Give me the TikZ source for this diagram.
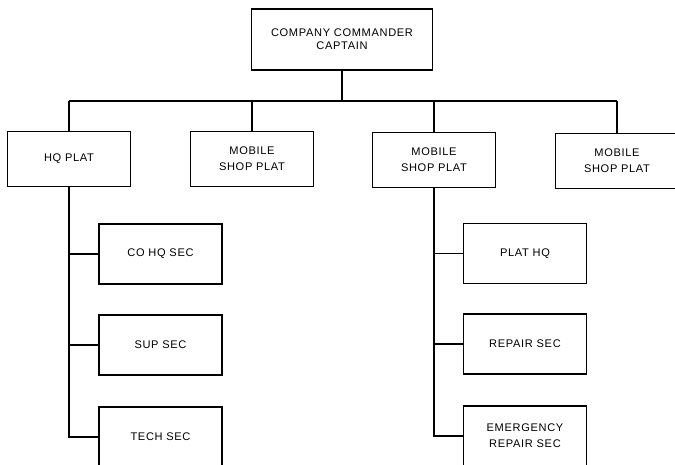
\documentclass[tikz,border=0pt]{standalone}
\usepackage{fontspec}
\setmainfont[LetterSpace=6]{Liberation Sans}
\usepackage{tikz}
\usetikzlibrary{positioning}

\begin{document}
\begin{tikzpicture}[
  x=0.02cm,y=-0.02cm,
  unit/.style={draw,line width=0.85pt,align=center,inner sep=0pt,
    font=\fontsize{6.3}{9}\selectfont},
  plat/.style={unit,minimum width=123*0.02cm,minimum height=55*0.02cm},
  sec/.style={unit,minimum width=123*0.02cm,minimum height=60*0.02cm},
  link/.style={line width=1.1pt}
]
\useasboundingbox (0,0) rectangle (675,464);
\clip (0,0) rectangle (675,464);

% Command.
\node[unit,minimum width=181*0.02cm,minimum height=61*0.02cm,
  font=\fontsize{6.3}{7.6}\selectfont] (cmdr) at (342,39.5)
  {COMPANY COMMANDER\\CAPTAIN};
\coordinate (bus) at (342,101);

% Platoons.
\node[plat] (hqplat) at (69,159) {HQ PLAT};
\node[plat] (shop1) at (252,159) {MOBILE\\SHOP PLAT};
\node[plat] (shop2) at (434,160) {MOBILE\\SHOP PLAT};
\node[plat] (shop3) at (617,161) {MOBILE\\SHOP PLAT};

% Sections of HQ platoon.
\node[sec] (cohq) at (160.5,254) {CO HQ SEC};
\node[sec] (supsec) at (160.5,345) {SUP SEC};
\node[sec] (techsec) at (160.5,437) {TECH SEC};

% Sections of shop platoon.
\node[sec] (plathq) at (525,253.5) {PLAT HQ};
\node[sec] (repsec) at (525,344) {REPAIR SEC};
\node[sec] (emrep) at (525,436) {EMERGENCY\\REPAIR SEC};

% Connectors.
\draw[link] (cmdr.south) -- (cmdr.south |- bus);
\draw[link] (hqplat.north |- bus) -- (shop3.north |- bus);
\foreach \p in {hqplat,shop1,shop2,shop3}
  \draw[link] (\p.north |- bus) -- (\p.north);
\draw[link] (hqplat.south) |- (techsec.west);
\foreach \s in {cohq,supsec}
  \draw[link] (hqplat.south |- \s.west) -- (\s.west);
\draw[link] (shop2.south) |- (emrep.west);
\foreach \s in {plathq,repsec}
  \draw[link] (shop2.south |- \s.west) -- (\s.west);
\end{tikzpicture}
\end{document}
